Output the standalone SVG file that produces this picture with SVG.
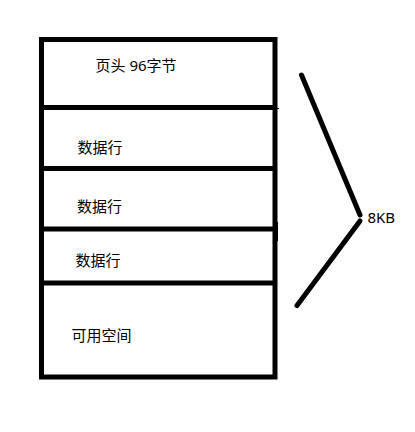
<svg xmlns="http://www.w3.org/2000/svg" width="415" height="432" viewBox="0 0 415 432">
<style>
.box{fill:none;stroke:#000;stroke-width:5}
.div{stroke:#000;stroke-width:5}
.lbl{font-family:"Noto Sans","Noto Sans CJK SC",sans-serif;font-size:15px;fill:#000}
.br{stroke:#000;stroke-width:5;stroke-linecap:round;fill:none}
</style>
<rect width="415" height="432" fill="#fff"/>
<g id="page">
<rect class="box" x="41.5" y="39.5" width="233.5" height="337.5"/>
</g>
<g id="header">
<line class="div" x1="39" y1="107.5" x2="277" y2="107.5"/>
<line x1="277" y1="108.5" x2="279" y2="108.5" stroke="#000" stroke-width="1"/>
<text class="lbl" x="95.5" y="71">页头 96字节</text>
</g>
<g id="row1">
<line class="div" x1="39" y1="168.5" x2="277" y2="168.5"/>
<text class="lbl" x="77.5" y="153">数据行</text>
</g>
<g id="row2">
<line class="div" x1="39" y1="229" x2="277" y2="229"/>
<rect x="276" y="222" width="2" height="19" fill="#000"/>
<text class="lbl" x="77" y="212">数据行</text>
</g>
<g id="row3">
<line class="div" x1="39" y1="283" x2="277" y2="283"/>
<text class="lbl" x="75.5" y="266">数据行</text>
</g>
<g id="free">
<text class="lbl" x="71.5" y="341">可用空间</text>
</g>
<g id="connectors">
<line class="br" x1="301.5" y1="75" x2="360" y2="215"/>
<line class="br" x1="360" y1="221" x2="297" y2="305.5"/>
</g>
<g id="size">
<text class="lbl" x="367.5" y="223">8KB</text>
</g>
</svg>
